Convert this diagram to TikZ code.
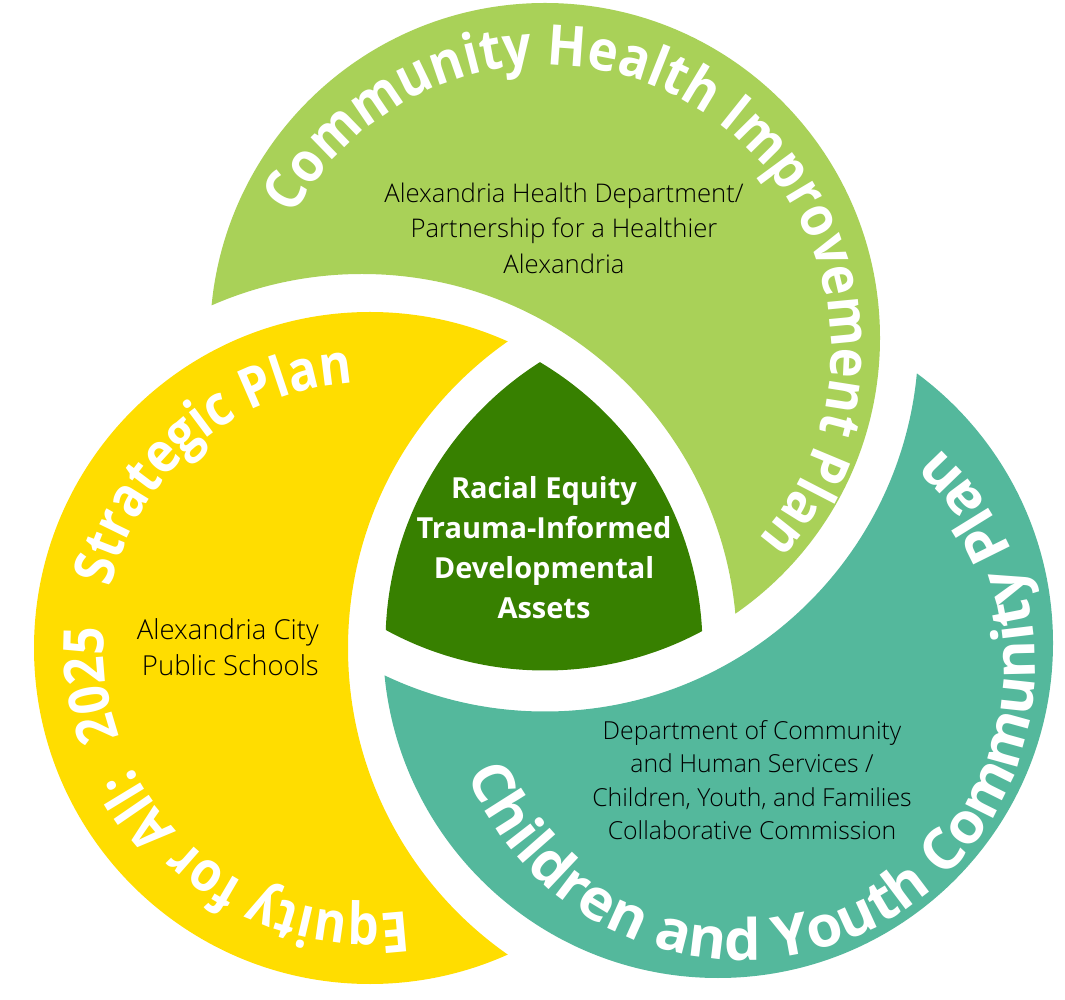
\documentclass[tikz,border=0pt]{standalone}
\usepackage{fontspec}
\setmainfont{Open Sans}
\newfontfamily\lightfont{Open Sans Light}
\newfontfamily\arcg[FakeStretch=0.905]{Open Sans}
\newfontfamily\arcy[FakeStretch=0.88]{Open Sans}
\newfontfamily\arct[FakeStretch=1.02]{Open Sans}
\usetikzlibrary{decorations.text}
\definecolor{cgreen}{HTML}{A9D158}
\definecolor{cyellow}{HTML}{FFDD00}
\definecolor{cteal}{HTML}{54B89C}
\definecolor{cdark}{HTML}{378000}
\tikzset{
  arctext/.style={decorate,decoration={text along path,text align={left},text={#1}}},
  body/.style={text=black,font=\lightfont\fontsize{25.7}{35.5}\selectfont,align=center,inner sep=0pt},
  core/.style={text=white,font=\fontsize{29}{40}\selectfont\bfseries,align=center,inner sep=0pt}
}
\begin{document}
\begin{tikzpicture}[x=1pt,y=1pt]
\useasboundingbox (0,0) rectangle (1065,999);
\coordinate (cg) at (545,661);
\coordinate (cy) at (370,351);
\coordinate (ct) at (718,356);
\coordinate (cutg) at (362,350);
\coordinate (cuty) at (722,351);
\coordinate (arcgc) at (546,649);
\coordinate (arctc) at (741,333);
\begin{scope}[even odd rule]
  \clip (0,0) rectangle (1065,999) (cutg) circle[radius=375pt];
  \fill[cgreen] (cg) circle[radius=335pt];
\end{scope}
\begin{scope}[even odd rule]
  \clip (0,0) rectangle (1065,999) (cuty) circle[radius=374pt];
  \fill[cyellow] (cy) circle[radius=336pt];
\end{scope}
\begin{scope}[even odd rule]
  \clip (0,0) rectangle (1065,999) (cg) circle[radius=373.5pt];
  \fill[cteal] (ct) circle[radius=335pt];
\end{scope}
\begin{scope}
  \clip (cg) circle[radius=332.5pt];
  \clip (cy) circle[radius=332.5pt];
  \fill[cdark] (ct) circle[radius=332.5pt];
\end{scope}
\path[arctext={|\arcg\fontsize{56}{56}\selectfont\bfseries\color{white}|Community Health Improvement Plan}]
  (arcgc) ++(152:285pt) arc[start angle=152,end angle=-60,radius=285pt];
\path[arctext={|\arcy\fontsize{56}{56}\selectfont\bfseries\color{white}|Equity for All:{\hspace{32pt}}2025{\hspace{40pt}}Strategic Plan}]
  (cy) ++(-82:266pt) arc[start angle=-82,end angle=-280,radius=266pt];
\path[arctext={|\arct\fontsize{57}{57}\selectfont\bfseries\color{white}|Children and Youth Community Plan}]
  (arctc) ++(201.5:294pt) arc[start angle=201.5,end angle=425,radius=294pt];
\node[body] (tg) at (564,771) {Alexandria Health Department/\\Partnership for a Healthier\\Alexandria};
\node[body,align=right,anchor=east,font=\lightfont\fontsize{27.5}{36.5}\selectfont] (ty) at (319,352) {Alexandria City\\Public Schools};
\node[body,font=\lightfont\fontsize{24.8}{33.5}\selectfont] (tt) at (752,219) {Department of Community\\and Human Services /\\Children, Youth, and Families\\Collaborative Commission};
\node[core] (tc) at (544,451) {Racial Equity\\Trauma-Informed\\Developmental\\Assets};
\end{tikzpicture}
\end{document}
